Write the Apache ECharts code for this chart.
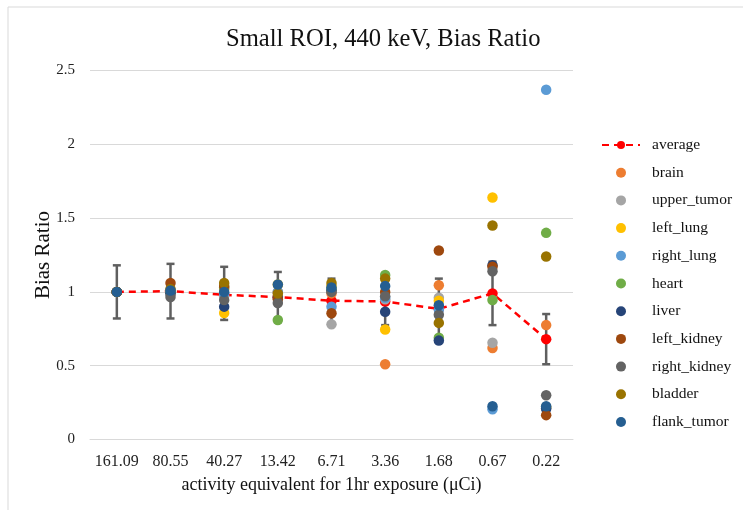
<!DOCTYPE html>
<html>
<head>
<meta charset="utf-8">
<script src="https://cdn.jsdelivr.net/npm/echarts@6/dist/echarts.min.js"></script>
<style>
  html, body { margin: 0; padding: 0; background: #fff; }
  #chart { width: 743px; height: 510px; }
</style>
</head>
<body>
<div id="chart"></div>
<script>
// categories (activity, µCi)
const categories = ['161.09', '80.55', '40.27', '13.42', '6.71', '3.36', '1.68', '0.67', '0.22'];

// average bias ratio and its error bar ends
const average = [1.0, 1.005, 0.98, 0.965, 0.94, 0.935, 0.885, 0.99, 0.68];
const errLow  = [0.82, 0.82, 0.81, 0.795, 0.79, 0.775, 0.68, 0.775, 0.51];
const errHigh = [1.18, 1.19, 1.17, 1.135, 1.09, 1.095, 1.09, 1.205, 0.85];

// per-organ bias ratio
const brain       = [1.0, 1.0, 1.02, 1.0, 0.99, 0.51, 1.045, 0.62, 0.775];
const upperTumor  = [1.0, 0.99, 0.97, 0.97, 0.78, 0.95, 0.96, 0.655, 0.21];
const leftLung    = [1.0, 1.0, 0.857, 1.05, 1.04, 0.745, 0.94, 1.64, 0.22];
const rightLung   = [1.0, 1.01, 0.99, 1.0, 0.9, 0.96, 0.88, 0.205, 2.37];
const heart       = [1.0, 1.0, 1.03, 0.81, 1.02, 1.115, 0.69, 0.945, 1.40];
const liver       = [1.0, 0.99, 0.9, 0.96, 1.01, 0.865, 0.67, 1.18, 0.21];
const leftKidney  = [1.0, 1.06, 1.04, 0.95, 0.855, 1.0, 1.28, 1.17, 0.165];
const rightKidney = [1.0, 0.965, 0.945, 0.925, 1.0, 0.97, 0.845, 1.14, 0.30];
const bladder     = [1.0, 1.02, 1.06, 0.99, 1.06, 1.09, 0.79, 1.45, 1.24];
const flankTumor  = [1.0, 1.01, 1.0, 1.05, 1.03, 1.04, 0.91, 0.225, 0.225];

const organs = [
  ['brain', brain, '#ED7D31'],
  ['upper_tumor', upperTumor, '#A5A5A5'],
  ['left_lung', leftLung, '#FFC000'],
  ['right_lung', rightLung, '#5B9BD5'],
  ['heart', heart, '#70AD47'],
  ['liver', liver, '#264478'],
  ['left_kidney', leftKidney, '#9E480E'],
  ['right_kidney', rightKidney, '#636363'],
  ['bladder', bladder, '#997300'],
  ['flank_tumor', flankTumor, '#255E91']
];

const serif = '"Liberation Serif", "DejaVu Serif", serif';
const myChart = echarts.init(document.getElementById('chart'));

const series = [
  {
    name: 'errbar',
    type: 'custom',
    z: 1,
    silent: true,
    data: categories.map((c, i) => [i, errLow[i], errHigh[i]]),
    renderItem: function (params, api) {
      const lo = api.coord([api.value(0), api.value(1)]);
      const hi = api.coord([api.value(0), api.value(2)]);
      const w = 4;
      const style = { stroke: '#5f5f5f', lineWidth: 2.5 };
      return {
        type: 'group',
        children: [
          { type: 'line', shape: { x1: lo[0], y1: lo[1], x2: hi[0], y2: hi[1] }, style: style },
          { type: 'line', shape: { x1: lo[0] - w, y1: lo[1], x2: lo[0] + w, y2: lo[1] }, style: style },
          { type: 'line', shape: { x1: hi[0] - w, y1: hi[1], x2: hi[0] + w, y2: hi[1] }, style: style }
        ]
      };
    }
  },
  {
    name: 'average',
    type: 'line',
    z: 2,
    data: average,
    symbol: 'circle',
    symbolSize: 10.5,
    itemStyle: { color: '#FF0000' },
    lineStyle: { color: '#FF0000', width: 2.5, type: [7, 5] }
  }
];
organs.forEach(function (o, k) {
  series.push({
    name: o[0],
    type: 'scatter',
    z: 3 + k,
    data: o[1],
    symbol: 'circle',
    symbolSize: 10.5,
    itemStyle: { color: o[2], opacity: 1 }
  });
});

const option = {
  animation: false,
  backgroundColor: '#fff',
  title: {
    text: 'Small ROI, 440 keV, Bias Ratio',
    left: 221,
    top: 22,
    textStyle: { fontFamily: serif, fontSize: 24.6, fontWeight: 'normal', color: '#111' }
  },
  graphic: [{
    type: 'rect',
    shape: { x: 8, y: 7, width: 800, height: 600 },
    style: { fill: 'none', stroke: '#d9d9d9', lineWidth: 1 },
    silent: true,
    z: -1
  }],
  legend: {
    orient: 'vertical',
    left: 596,
    top: 132,
    itemWidth: 38,
    itemHeight: 10,
    itemGap: 11.7,
    data: ['average'].concat(organs.map(o => o[0])),
    textStyle: { fontFamily: serif, fontSize: 15.5, color: '#111', lineHeight: 14, padding: [0, 0, 0, 7] }
  },
  grid: { left: 90, right: 170, top: 70.5, bottom: 70.5 },
  xAxis: {
    type: 'category',
    data: categories,
    boundaryGap: true,
    name: 'activity equivalent for 1hr exposure (μCi)',
    nameLocation: 'middle',
    nameGap: 37,
    nameMoveOverlap: false,
    nameTextStyle: { fontFamily: serif, fontSize: 18, color: '#111' },
    axisLine: { show: true, lineStyle: { color: '#d9d9d9' } },
    axisTick: { show: false },
    axisLabel: { interval: 0, fontFamily: serif, fontSize: 16, color: '#222', margin: 14 }
  },
  yAxis: {
    type: 'value',
    min: 0,
    max: 2.5,
    interval: 0.5,
    name: 'Bias Ratio',
    nameLocation: 'middle',
    nameGap: 36,
    nameMoveOverlap: false,
    nameTextStyle: { fontFamily: serif, fontSize: 21, color: '#111' },
    axisLine: { show: false },
    axisTick: { show: false },
    splitLine: { lineStyle: { color: '#d9d9d9' } },
    axisLabel: { fontFamily: serif, fontSize: 15, color: '#222', margin: 15 }
  },
  series: series
};

myChart.setOption(option);
window.addEventListener('resize', function () {
  myChart.resize();
});
</script>
</body>
</html>
